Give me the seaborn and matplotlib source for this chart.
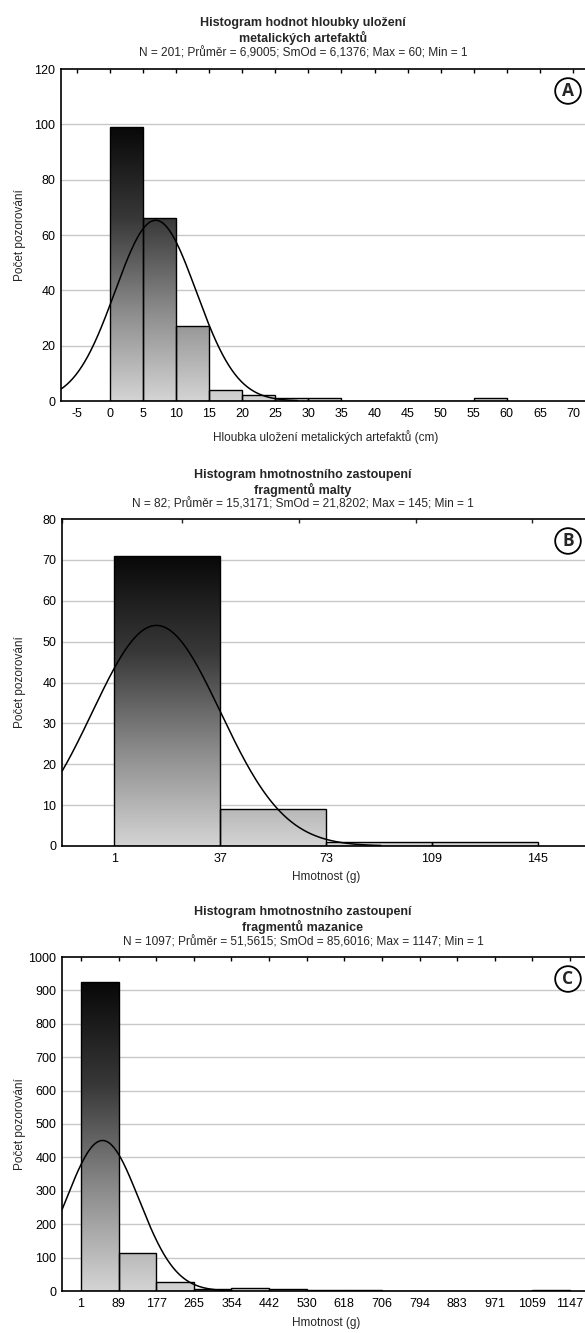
import numpy as np
import pandas as pd
import matplotlib
matplotlib.use("Agg")
import matplotlib.pyplot as plt
from matplotlib.colors import LinearSegmentedColormap
import seaborn as sns

# ---------------- data ----------------
a_edges = [0, 5, 10, 15, 20, 25, 30, 35, 40, 45, 50, 55, 60]
a_counts = [99, 66, 27, 4, 2, 1, 1, 0, 0, 0, 0, 1]
a_ticks = [-5, 0, 5, 10, 15, 20, 25, 30, 35, 40, 45, 50, 55, 60, 65, 70]
a_stats = dict(N=201, mean=6.9005, sd=6.1376)

b_edges = [1, 37, 73, 109, 145]
b_counts = [71, 9, 1, 1]
b_ticks = [1, 37, 73, 109, 145]

c_edges = [1, 89.15, 177.31, 265.46, 353.62, 441.77, 529.92, 618.08, 706.23,
           794.38, 882.54, 970.69, 1058.85, 1147]
c_counts = [925, 113, 28, 7, 8, 6, 2, 2, 1, 1, 1, 1, 2]
c_ticklabels = ["1", "89", "177", "265", "354", "442", "530", "618", "706",
                "794", "883", "971", "1059", "1147"]
b_stats = dict(N=82, mean=15.3171, sd=21.8202)
c_stats = dict(N=1097, mean=51.5615, sd=85.6016)

titles = [
    ("Histogram hodnot hloubky uložení", "metalických artefaktů",
     "N = 201; Průměr = 6,9005; SmOd = 6,1376; Max = 60; Min = 1"),
    ("Histogram hmotnostního zastoupení", "fragmentů malty",
     "N = 82; Průměr = 15,3171; SmOd = 21,8202; Max = 145; Min = 1"),
    ("Histogram hmotnostního zastoupení", "fragmentů mazanice",
     "N = 1097; Průměr = 51,5615; SmOd = 85,6016; Max = 1147; Min = 1"),
]
xlabels = ["Hloubka uložení metalických artefaktů (cm)", "Hmotnost (g)", "Hmotnost (g)"]
ylabel = "Počet pozorování"
letters = ["A", "B", "C"]

# ---------------- style ----------------
sns.set_style("white")
plt.rcParams["font.family"] = ["Liberation Sans", "DejaVu Sans"]

W, H = 585, 1333
fig = plt.figure(figsize=(W / 100, H / 100), dpi=100)

def px_axes(left, top, right, bottom):
    return fig.add_axes([left / W, 1 - bottom / H, (right - left) / W, (bottom - top) / H])

cmap = LinearSegmentedColormap.from_list("g", ["#d4d4d4", "#8a8a8a", "#383838", "#080808"])
grad = np.linspace(0, 1, 256).reshape(-1, 1)

panels = [
    dict(edges=a_edges, counts=a_counts, stats=a_stats, ticks=a_ticks,
         ticklabels=[str(t) for t in a_ticks], xlim=(-7.41, 74.1), ylim=(0, 120),
         yticks=np.arange(0, 121, 20), box=(61, 69, 600, 401), top_ticks=None,
         title_y=(23, 38, 53), xlab_off=36),
    dict(edges=b_edges, counts=b_counts, stats=b_stats, ticks=b_ticks,
         ticklabels=[str(t) for t in b_ticks], xlim=(-16.8, 166.2), ylim=(0, 80),
         yticks=np.arange(0, 81, 10), box=(62, 519, 600, 846),
         top_ticks=[-16.8, 23.9, 63.7, 103.5, 142.9],
         title_y=(475, 490, 504), xlab_off=31),
    dict(edges=c_edges, counts=c_counts, stats=c_stats, ticks=c_edges,
         ticklabels=c_ticklabels, xlim=(-43.5, 1217.3), ylim=(0, 1000),
         yticks=np.arange(0, 1001, 100), box=(62, 957, 600, 1291), top_ticks=None,
         title_y=(912, 927, 942), xlab_off=32),
]

for i, p in enumerate(panels):
    ax = px_axes(*p["box"])
    edges = [float(e) for e in p["edges"]]
    counts = [float(c) for c in p["counts"]]
    centers = [(edges[k] + edges[k + 1]) / 2 for k in range(len(counts))]
    df = pd.DataFrame({"x": centers, "w": counts})
    sns.histplot(data=df, x="x", weights="w", bins=edges, ax=ax, stat="count",
                 color="white", edgecolor="black", linewidth=1.0, alpha=1)
    ymax_bar = max(counts)
    for patch in list(ax.patches):
        if patch.get_height() <= 0:
            continue
        patch.set_facecolor("none")
        patch.set_zorder(3)
        im = ax.imshow(grad, cmap=cmap, origin="lower", aspect="auto",
                       extent=[p["xlim"][0], p["xlim"][1], 0, ymax_bar],
                       zorder=2, interpolation="bilinear")
        im.set_clip_path(patch)

    # fitted normal curve
    st = p["stats"]
    bw = edges[1] - edges[0]
    xs = np.linspace(p["xlim"][0], st["mean"] + 3.5 * st["sd"], 400)
    ys = st["N"] * bw * np.exp(-0.5 * ((xs - st["mean"]) / st["sd"]) ** 2) / (st["sd"] * np.sqrt(2 * np.pi))
    sns.lineplot(x=xs, y=ys, ax=ax, color="black", linewidth=1.1, zorder=4)

    ax.set_xlim(*p["xlim"])
    ax.set_ylim(*p["ylim"])
    ax.set_yticks(p["yticks"])
    ax.set_yticklabels([str(int(v)) for v in p["yticks"]])
    ax.set_xticks(p["ticks"])
    ax.set_xticklabels(p["ticklabels"])
    for y in p["yticks"][1:-1]:
        ax.axhline(y, color="#c8c8c8", linewidth=1.0, zorder=1)

    ax.tick_params(axis="x", direction="in", length=3, width=1, pad=5,
                   labelsize=9, colors="black", top=(p["top_ticks"] is None))
    ax.tick_params(axis="y", length=0, pad=4, labelsize=9, colors="black")
    if p["top_ticks"] is not None:
        sec = ax.secondary_xaxis("top")
        sec.set_xticks(p["top_ticks"])
        sec.set_xticklabels([""] * len(p["top_ticks"]))
        sec.tick_params(direction="in", length=3, width=1)
        sec.spines["top"].set_visible(False)

    for s in ["top", "left", "bottom"]:
        ax.spines[s].set_visible(True)
        ax.spines[s].set_color("black")
        ax.spines[s].set_linewidth(1.2)
    ax.spines["right"].set_visible(False)

    left, top, right, bottom = p["box"]
    hpx = bottom - top
    wpx = right - left
    ax.set_ylabel(ylabel, fontsize=8.5)
    ax.yaxis.set_label_coords((20 - left) / wpx, 0.5)
    ax.yaxis.label.set_va("center")
    ax.set_xlabel(xlabels[i], fontsize=8.5)
    ax.xaxis.set_label_coords((326 - left) / wpx, -p["xlab_off"] / hpx)
    ax.xaxis.label.set_va("center")

    t1, t2, t3 = titles[i]
    y1, y2, y3 = p["title_y"]
    fig.text(303 / W, 1 - y1 / H, t1, ha="center", va="center", fontsize=9, fontweight="bold")
    fig.text(303 / W, 1 - y2 / H, t2, ha="center", va="center", fontsize=9, fontweight="bold")
    fig.text(303 / W, 1 - y3 / H, t3, ha="center", va="center", fontsize=8.6)

    ly = top + 22
    fig.text(568 / W, 1 - ly / H, letters[i], ha="center", va="center", fontsize=12.5,
             fontweight="bold", family=["Open Sans", "DejaVu Sans"],
             bbox=dict(boxstyle="circle,pad=0.22", fc="white", ec="black", lw=1.3))

fig.savefig("out.png", dpi=100, facecolor="white")
